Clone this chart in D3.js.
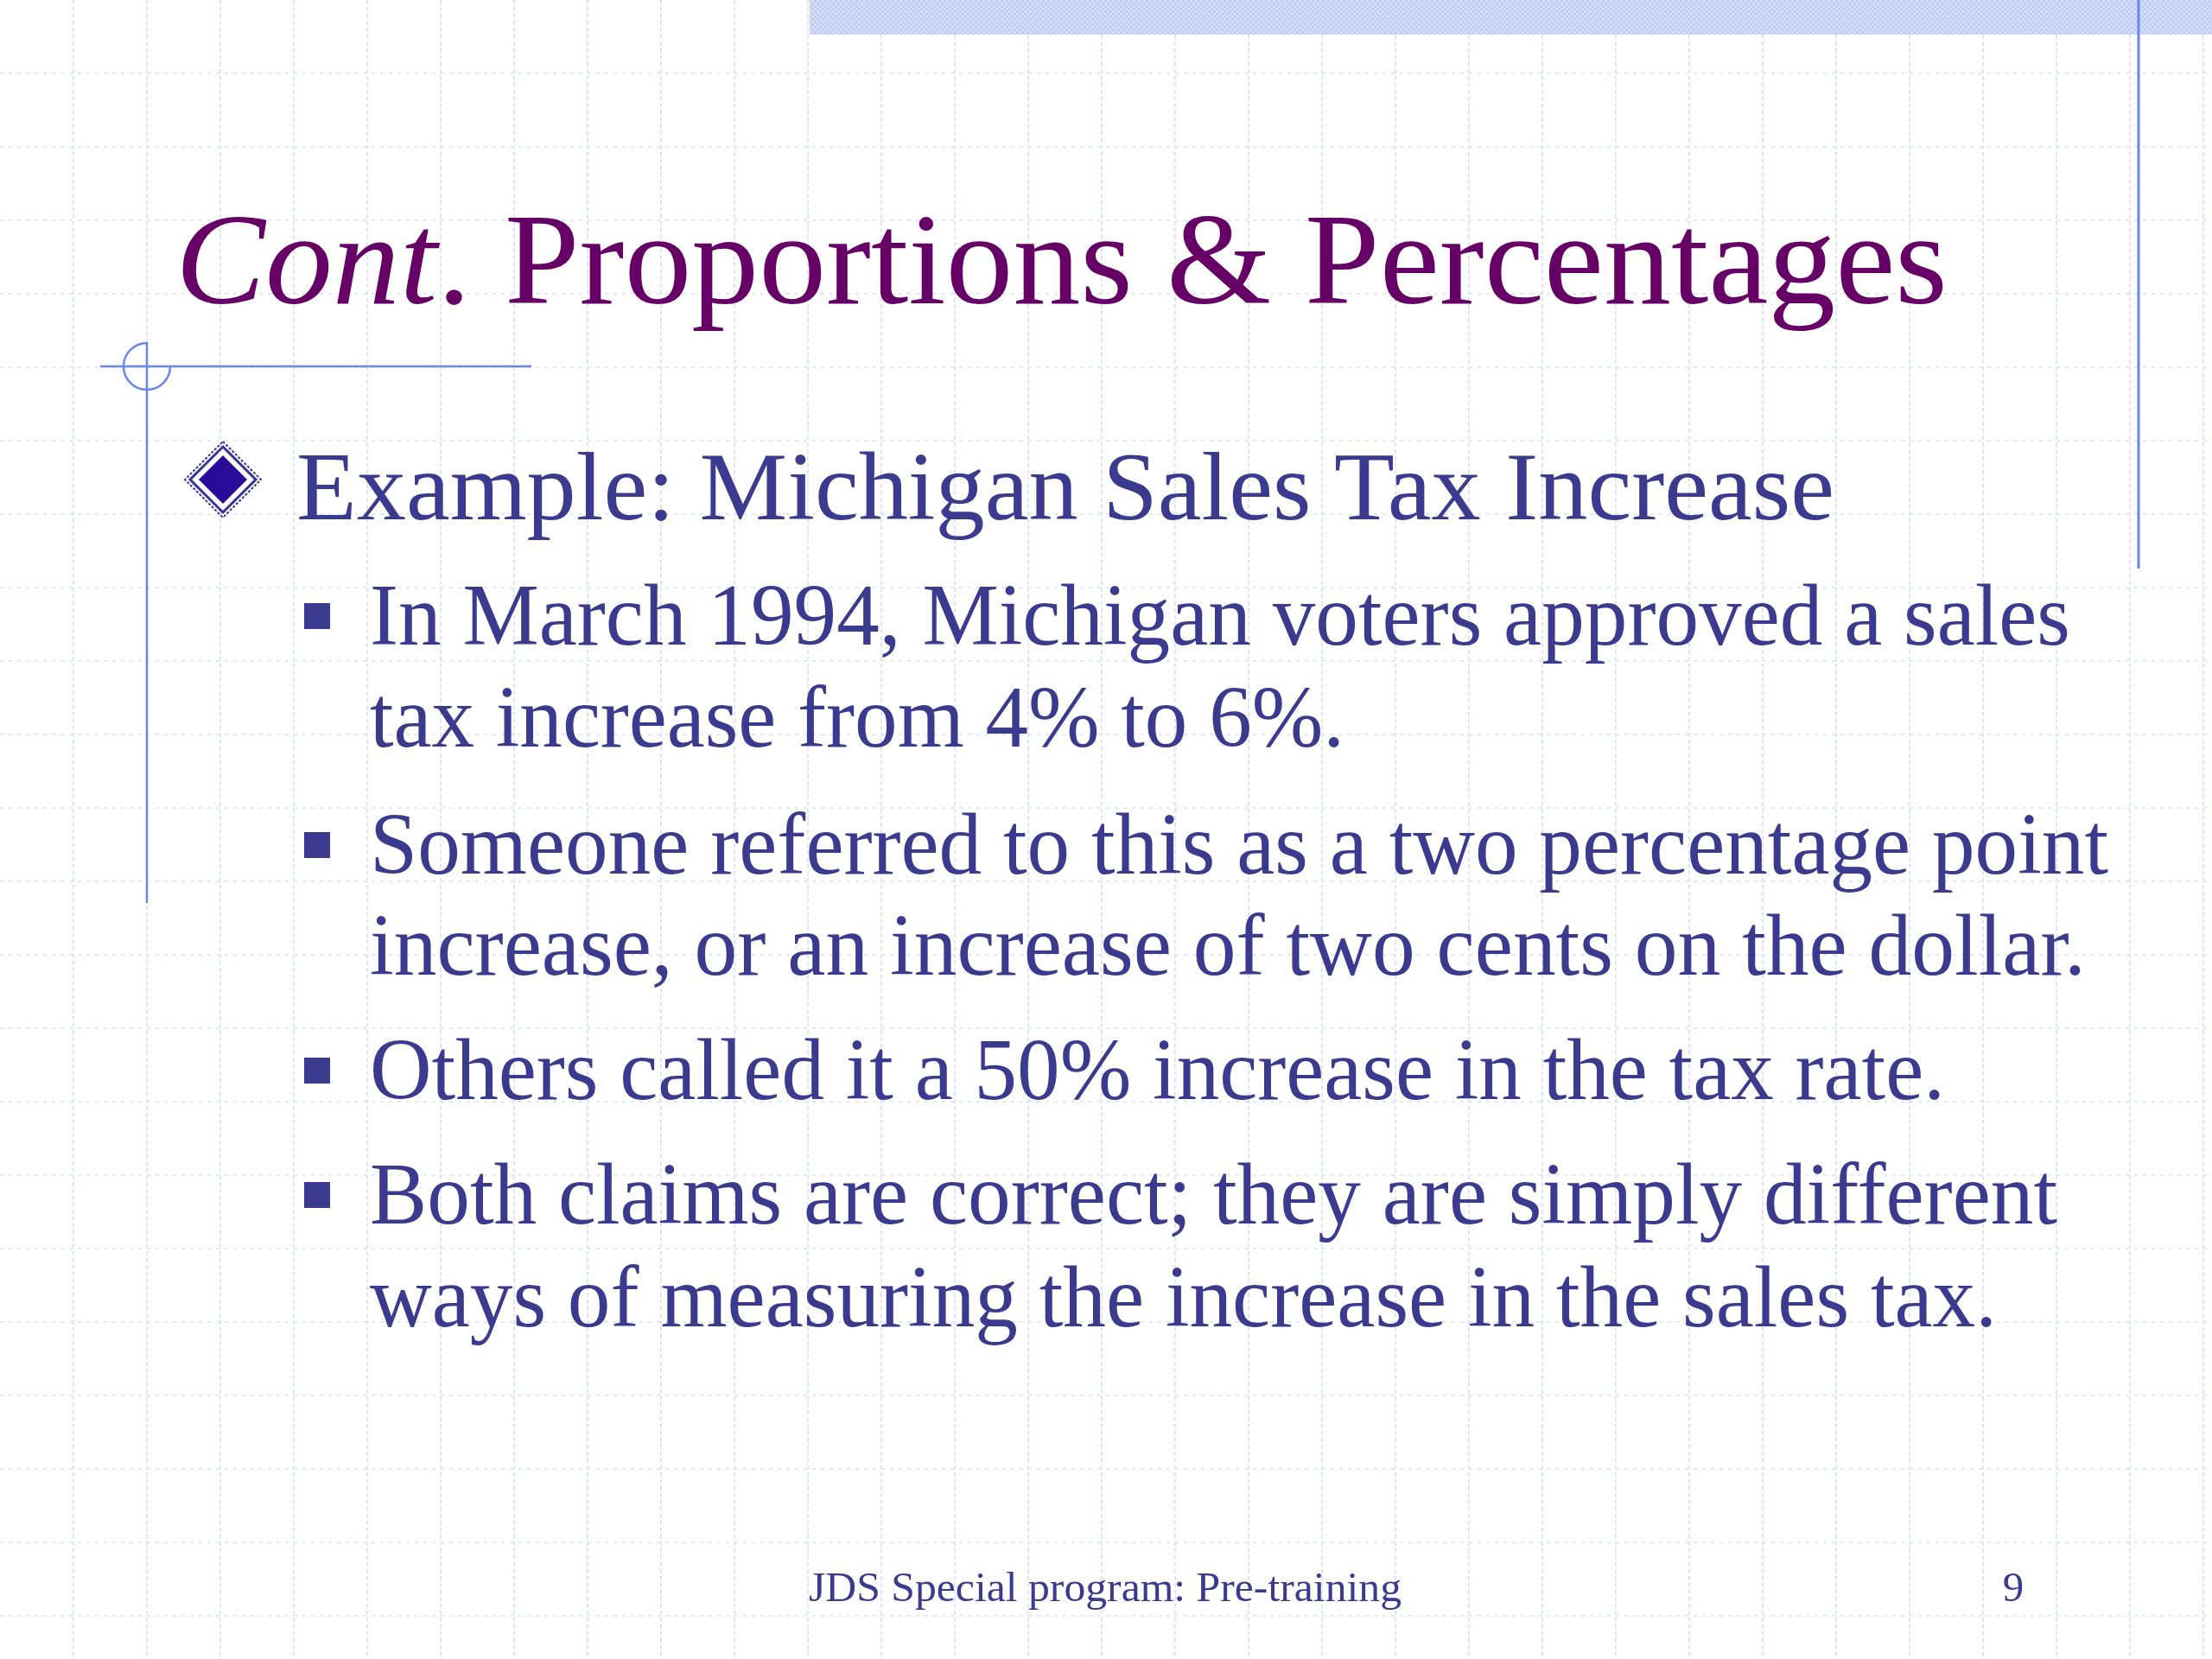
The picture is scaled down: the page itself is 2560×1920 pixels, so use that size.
<!DOCTYPE html>
<html><head><meta charset="utf-8">
<script src="https://cdn.jsdelivr.net/npm/d3@7"></script>
<style>html,body{margin:0;padding:0;background:#fff;}</style>
</head><body>
<script>
const titleParts = [{t:"Cont", italic:true},{t:". Proportions & Percentages", italic:false}];
const heading = "Example: Michigan Sales Tax Increase";
const bulletLines = [
  ["In March 1994, Michigan voters approved a sales", "tax increase from 4% to 6%."],
  ["Someone referred to this as a two percentage point", "increase, or an increase of two cents on the dollar."],
  ["Others called it a 50% increase in the tax rate."],
  ["Both claims are correct; they are simply different", "ways of measuring the increase in the sales tax."]
];
const footer = "JDS Special program: Pre-training";
const pageNum = "9";

const FONT="'Liberation Serif','Times New Roman','DejaVu Serif',serif";
const TXT="#3a3a8e";
const W=2560,H=1920;
const svg=d3.select("body").append("svg").attr("width",W).attr("height",H);
const defs=svg.append("defs");
const pat=defs.append("pattern").attr("id","chk").attr("width",6).attr("height",6).attr("patternUnits","userSpaceOnUse");
pat.append("rect").attr("width",6).attr("height",6).attr("fill","#d6def7");
pat.append("rect").attr("width",3).attr("height",3).attr("fill","#bfcbf0");
pat.append("rect").attr("x",3).attr("y",3).attr("width",3).attr("height",3).attr("fill","#bfcbf0");

const gx=d3.range(85,W,85), gy=d3.range(85,H,85);
svg.append("g").selectAll("line").data(gx).join("line")
  .attr("x1",d=>d).attr("x2",d=>d).attr("y1",0).attr("y2",H)
  .attr("stroke","#dfe4fb").attr("stroke-width",2).attr("stroke-dasharray","5,3");
svg.append("g").selectAll("line").data(gy).join("line")
  .attr("y1",d=>d).attr("y2",d=>d).attr("x1",0).attr("x2",W)
  .attr("stroke","#e3e7fb").attr("stroke-width",2).attr("stroke-dasharray","4,6");

svg.append("rect").attr("x",937).attr("y",0).attr("width",W-937).attr("height",40).attr("fill","url(#chk)");
const blue="#6a86ea";
svg.append("line").attr("x1",2475).attr("x2",2475).attr("y1",0).attr("y2",658).attr("stroke",blue).attr("stroke-width",3);
svg.append("line").attr("x1",116).attr("x2",615).attr("y1",424).attr("y2",424).attr("stroke",blue).attr("stroke-width",2.5);
svg.append("line").attr("x1",170).attr("x2",170).attr("y1",396).attr("y2",1045).attr("stroke",blue).attr("stroke-width",2.5);
svg.append("path").attr("d",d3.arc()({innerRadius:27,outerRadius:27,startAngle:0,endAngle:-Math.PI*1.5}))
  .attr("transform","translate(170,424)").attr("fill","none").attr("stroke",blue).attr("stroke-width",2.5);

const title=svg.append("text").attr("x",203).attr("y",351)
  .attr("font-family",FONT).attr("font-size",150).attr("fill","#660066")
  .attr("textLength",2051).attr("lengthAdjust","spacingAndGlyphs");
title.selectAll("tspan").data(titleParts).join("tspan").text(d=>d.t).attr("font-style",d=>d.italic?"italic":"normal");

const dm=svg.append("g").attr("transform","translate(258,555)");
dm.append("path").attr("d","M0,-44L44,0L0,44L-44,0Z").attr("fill","none").attr("stroke","#333399").attr("stroke-width",2).attr("stroke-dasharray","3,2");
dm.append("path").attr("d","M0,-38L38,0L0,38L-38,0Z").attr("fill","#ffffff").attr("stroke","#333399").attr("stroke-width",3);
dm.append("path").attr("d","M0,-28L28,0L0,28L-28,0Z").attr("fill","#2a0a99");
svg.append("text").attr("x",343).attr("y",601).text(heading)
  .attr("font-family",FONT).attr("font-size",112).attr("fill",TXT)
  .attr("textLength",1780).attr("lengthAdjust","spacingAndGlyphs");

const baselines=[[746,864],[1011,1128],[1272],[1416,1535]];
const widths=[[1968,1128],[2012,1986],[1823],[1953,1883]];
const lines=[];
bulletLines.forEach((b,i)=>b.forEach((t,j)=>lines.push({t,y:baselines[i][j],w:widths[i][j],first:j===0})));
svg.append("g").selectAll("rect").data(lines.filter(d=>d.first)).join("rect")
  .attr("x",352).attr("y",d=>d.y-48).attr("width",30).attr("height",30).attr("fill",TXT);
svg.append("g").selectAll("text").data(lines).join("text")
  .attr("x",428).attr("y",d=>d.y).text(d=>d.t)
  .attr("font-family",FONT).attr("font-size",102).attr("fill",TXT)
  .attr("textLength",d=>d.w).attr("lengthAdjust","spacingAndGlyphs");

svg.append("text").attr("x",1279).attr("y",1853).attr("text-anchor","middle").text(footer)
  .attr("font-family",FONT).attr("font-size",49).attr("fill",TXT)
  .attr("textLength",686).attr("lengthAdjust","spacingAndGlyphs");
svg.append("text").attr("x",2330).attr("y",1853).attr("text-anchor","middle").text(pageNum)
  .attr("font-family",FONT).attr("font-size",49).attr("fill",TXT);
</script>
</body></html>
